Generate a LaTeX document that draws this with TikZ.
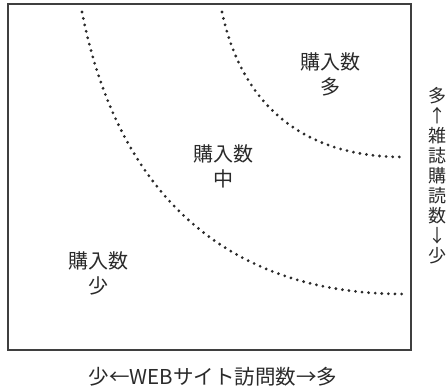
\documentclass[tikz,border=0pt]{standalone}
\usepackage{fontspec}
\newfontfamily\jp{Noto Sans CJK JP}
\definecolor{ink}{HTML}{2A2A2A}
\begin{document}
\begin{tikzpicture}[x=1pt,y=-1pt,
  frame/.style={draw=ink!90,line width=1.1pt},
  dots/.style={draw=ink,line width=3.1pt,line cap=round,dash pattern=on 0pt off 6.6pt},
  label/.style={text=ink,align=center,inner sep=0pt,font=\jp\fontsize{20}{25}\selectfont},
  axislab/.style={text=ink,inner sep=0pt,font=\jp\fontsize{20.5}{20}\selectfont}]
\useasboundingbox (0,0) rectangle (447,389);
\draw[frame] (8,4) rectangle (411,350);
% curves
\coordinate (o1) at (82,12);
\coordinate (o2) at (403,294);
\coordinate (i1) at (222,12);
\coordinate (i2) at (403,157);
\draw[dots] (o1) .. controls (118,195) and (228,294) .. (o2);
\draw[dots] (i1) .. controls (242,106) and (304,157) .. (i2);
% labels
\node[label] (many) at (330,74) {購入数\\多};
\node[label] (mid) at (223,166) {購入数\\中};
\node[label] (few) at (98,273) {購入数\\少};
\node[axislab] (xlab) at (213,377) {少←WEBサイト訪問数→多};
\node[axislab,align=center,font=\jp\fontsize{18}{20}\selectfont] (ylab) at (437,176) {多\\↑\\雑\\誌\\購\\読\\数\\↓\\少};
\end{tikzpicture}
\end{document}
